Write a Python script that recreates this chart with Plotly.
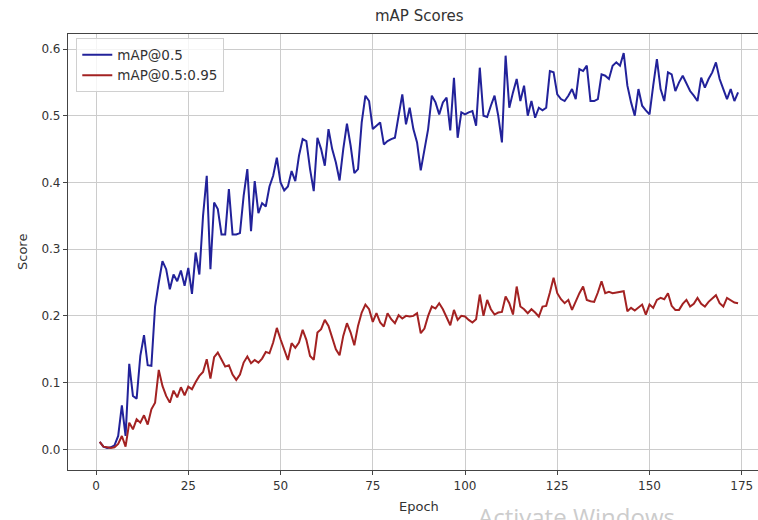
import plotly.graph_objects as go

epochs = list(range(1, 175))

map50 = [
    0.011, 0.004, 0.002, 0.003, 0.006, 0.020, 0.066, 0.020, 0.128, 0.080,
    0.076, 0.140, 0.171, 0.126, 0.125, 0.214, 0.250, 0.282, 0.270, 0.240,
    0.262, 0.252, 0.268, 0.245, 0.272, 0.233, 0.295, 0.262, 0.350, 0.410,
    0.270, 0.370, 0.360, 0.322, 0.322, 0.390, 0.322, 0.322, 0.324, 0.380,
    0.420, 0.327, 0.402, 0.354, 0.369, 0.364, 0.394, 0.410, 0.437, 0.400,
    0.388, 0.394, 0.417, 0.402, 0.440, 0.465, 0.462, 0.420, 0.387, 0.467,
    0.450, 0.425, 0.480, 0.450, 0.430, 0.403, 0.450, 0.488, 0.455, 0.414,
    0.420, 0.490, 0.530, 0.522, 0.480, 0.485, 0.490, 0.457, 0.462, 0.465,
    0.467, 0.500, 0.532, 0.487, 0.512, 0.480, 0.460, 0.418, 0.450, 0.480,
    0.530, 0.520, 0.502, 0.520, 0.527, 0.478, 0.557, 0.467, 0.505, 0.502,
    0.505, 0.507, 0.485, 0.572, 0.500, 0.498, 0.515, 0.530, 0.500, 0.460,
    0.590, 0.512, 0.535, 0.555, 0.522, 0.545, 0.500, 0.522, 0.497, 0.512,
    0.508, 0.512, 0.567, 0.565, 0.532, 0.525, 0.522, 0.530, 0.540, 0.525,
    0.570, 0.567, 0.575, 0.522, 0.522, 0.525, 0.562, 0.560, 0.555, 0.575,
    0.580, 0.575, 0.594, 0.545, 0.520, 0.500, 0.540, 0.515, 0.508, 0.502,
    0.545, 0.585, 0.540, 0.522, 0.565, 0.562, 0.537, 0.550, 0.560, 0.548,
    0.537, 0.530, 0.522, 0.557, 0.542, 0.555, 0.565, 0.580, 0.555, 0.540,
    0.525, 0.540, 0.522, 0.535,
]

map50_95 = [
    0.011, 0.004, 0.003, 0.002, 0.003, 0.008, 0.020, 0.004, 0.040, 0.030,
    0.045, 0.040, 0.051, 0.037, 0.060, 0.070, 0.119, 0.095, 0.080, 0.070,
    0.088, 0.078, 0.093, 0.081, 0.094, 0.090, 0.101, 0.110, 0.116, 0.135,
    0.106, 0.138, 0.145, 0.134, 0.124, 0.126, 0.112, 0.104, 0.112, 0.130,
    0.139, 0.129, 0.134, 0.130, 0.136, 0.146, 0.144, 0.160, 0.182, 0.165,
    0.150, 0.134, 0.159, 0.152, 0.160, 0.179, 0.164, 0.140, 0.134, 0.175,
    0.180, 0.194, 0.185, 0.169, 0.150, 0.141, 0.170, 0.189, 0.175, 0.156,
    0.185, 0.205, 0.217, 0.210, 0.191, 0.204, 0.190, 0.184, 0.204, 0.195,
    0.189, 0.201, 0.196, 0.200, 0.199, 0.200, 0.204, 0.174, 0.181, 0.200,
    0.214, 0.211, 0.219, 0.210, 0.199, 0.186, 0.209, 0.194, 0.200, 0.199,
    0.194, 0.190, 0.195, 0.232, 0.200, 0.224, 0.210, 0.202, 0.205, 0.206,
    0.229, 0.219, 0.202, 0.244, 0.214, 0.210, 0.204, 0.210, 0.205, 0.199,
    0.214, 0.215, 0.235, 0.257, 0.234, 0.225, 0.219, 0.224, 0.209, 0.222,
    0.234, 0.244, 0.224, 0.222, 0.221, 0.235, 0.252, 0.234, 0.236, 0.234,
    0.235, 0.236, 0.237, 0.207, 0.212, 0.208, 0.213, 0.217, 0.202, 0.217,
    0.212, 0.224, 0.227, 0.225, 0.234, 0.215, 0.209, 0.209, 0.218, 0.224,
    0.214, 0.218, 0.227, 0.218, 0.214, 0.221, 0.226, 0.231, 0.219, 0.214,
    0.227, 0.224, 0.220, 0.219,
]

x_ticks = [0, 25, 50, 75, 100, 125, 150, 175]
y_ticks = [0.0, 0.1, 0.2, 0.3, 0.4, 0.5, 0.6]

FONT = "DejaVu Sans"
TXT = "#333333"

fig = go.Figure()
fig.add_trace(go.Scatter(x=epochs, y=map50, mode="lines", name="mAP@0.5",
                         line=dict(color="#22229a", width=2)))
fig.add_trace(go.Scatter(x=epochs, y=map50_95, mode="lines", name="mAP@0.5:0.95",
                         line=dict(color="#a32222", width=2)))

fig.update_layout(
    width=758, height=520,
    margin=dict(l=68, r=0, t=34, b=50),
    paper_bgcolor="white", plot_bgcolor="white",
    font=dict(family=FONT, size=12, color=TXT),
    showlegend=True,
    legend=dict(x=0.012, y=0.99, xanchor="left", yanchor="top",
                bgcolor="rgba(255,255,255,0.8)", bordercolor="#d0d0d0", borderwidth=1,
                font=dict(family=FONT, size=13.5, color=TXT),
                tracegroupgap=2, itemwidth=30),
    xaxis=dict(range=[-7.6, 179.4], tickvals=x_ticks, ticktext=[str(t) for t in x_ticks],
               showgrid=True, gridcolor="#cccccc", gridwidth=1,
               showline=True, linecolor="#444444", linewidth=1.2, mirror=True,
               ticks="outside", ticklen=4, tickcolor="#444444", zeroline=False,
               tickfont=dict(size=12, color=TXT)),
    yaxis=dict(range=[-0.031, 0.6225], tickvals=y_ticks, ticktext=[f"{t:.1f}" for t in y_ticks],
               showgrid=True, gridcolor="#cccccc", gridwidth=1,
               showline=True, linecolor="#444444", linewidth=1.2, mirror=False,
               ticks="outside", ticklen=4, tickcolor="#444444", zeroline=False,
               tickfont=dict(size=12, color=TXT)),
    annotations=[
        dict(text="mAP Scores", xref="paper", yref="paper", x=0.509, y=1, yshift=7,
             xanchor="center", yanchor="bottom", showarrow=False,
             font=dict(family=FONT, size=15, color=TXT)),
        dict(text="Epoch", xref="paper", yref="paper", x=0.509, y=0, yshift=-27,
             xanchor="center", yanchor="top", showarrow=False,
             font=dict(family=FONT, size=13, color=TXT)),
        dict(text="Score", xref="paper", yref="paper", x=0, xshift=-46, y=0.5,
             xanchor="center", yanchor="middle", textangle=-90, showarrow=False,
             font=dict(family=FONT, size=13, color=TXT)),
        dict(text="Activate Windows", xref="paper", yref="paper", x=(477 - 68) / 690,
             y=-(499 - 470) / 436, xanchor="left", yanchor="top", showarrow=False,
             borderpad=0, font=dict(family="Open Sans", size=24, color="#cccccc")),
    ],
)

fig.write_html("out.html")
